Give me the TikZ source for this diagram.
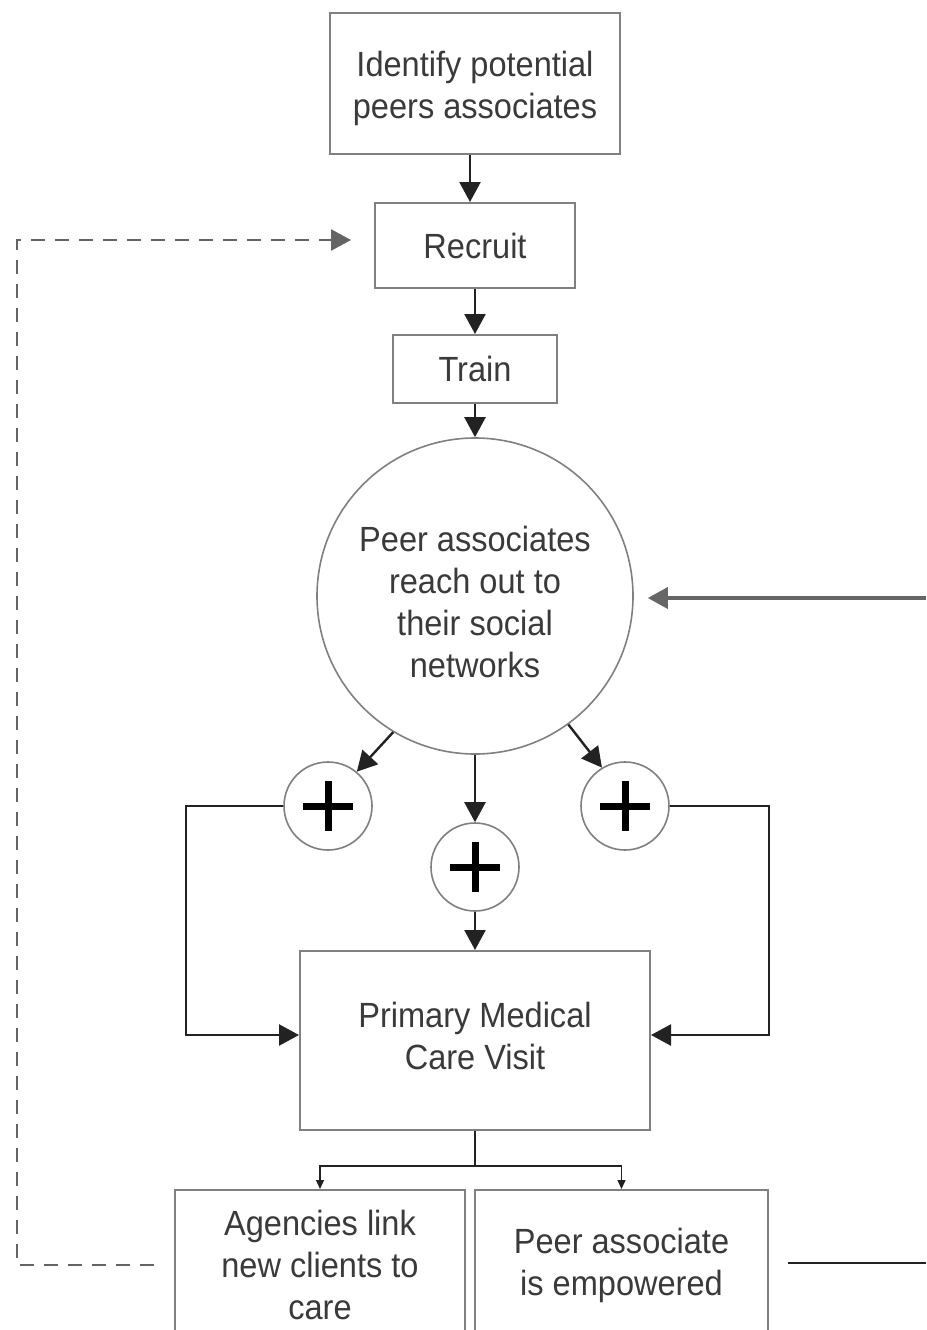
\documentclass[tikz,border=0pt]{standalone}
\usepackage{fontspec}
\setmainfont[FakeStretch=0.93]{Liberation Sans}
\usetikzlibrary{arrows.meta}
\definecolor{txt}{HTML}{3A3A3A}
\definecolor{frame}{HTML}{808080}
\definecolor{ln}{HTML}{222222}
\newcommand\mkplus[1]{\draw[line width=7pt,black] ([xshift=-25pt]#1.center) -- ([xshift=25pt]#1.center) ([yshift=-25pt]#1.center) -- ([yshift=25pt]#1.center);}
\begin{document}
\begin{tikzpicture}[x=1pt,y=-1pt,
  box/.style={draw=frame, line width=2pt, fill=white, text=txt, align=center, inner sep=0pt,
     font=\fontsize{35}{42}\selectfont},
  rnd/.style={circle, draw=frame, line width=1.6pt, fill=white, text=txt, align=center, inner sep=0pt,
     font=\fontsize{35}{42}\selectfont},
  tl/.style={text=txt, align=center, inner sep=0pt, font=\fontsize{35}{42}\selectfont},
  arr/.style={draw=ln, line width=2.4pt, -{Triangle[length=20pt,width=21pt]}},
  sarr/.style={draw=ln, line width=1.4pt, -{Triangle[length=9pt,width=8pt]}},
  dsh/.style={draw=ln!70!white, line width=2.6pt, dash pattern=on 14pt off 10pt, -{Triangle[length=20pt,width=21pt]}}]
\useasboundingbox (0,0) rectangle (926,1330);
\clip (0,0) rectangle (926,1330);
\fill[white] (0,0) rectangle (926,1330);

\node[box, minimum width=290pt, minimum height=141pt,
  label={[tl, yshift=-5pt]center:Identify potential\\peers associates}] (id) at (475,83.5) {};
\node[box, minimum width=200pt, minimum height=85pt] (rec) at (475,245.5) {Recruit};
\node[box, minimum width=164pt, minimum height=68pt] (train) at (475,369) {Train};
\node[rnd, minimum size=316pt,
  label={[tl, yshift=-6pt]center:Peer associates\\reach out to\\their social\\networks}] (peer) at (475,596) {};
\node[rnd, minimum size=88pt] (plusL) at (328,806) {};
\node[rnd, minimum size=88pt] (plusM) at (475,867) {};
\node[rnd, minimum size=88pt] (plusR) at (625,806) {};
\mkplus{plusL}
\mkplus{plusM}
\mkplus{plusR}
\node[box, minimum width=350pt, minimum height=179pt,
  label={[tl, yshift=5pt]center:Primary Medical\\Care Visit}] (pmcv) at (475,1040.5) {};
\node[box, minimum width=290pt, minimum height=150pt] (agen) at (320,1265) {Agencies link\\new clients to\\care};
\node[box, minimum width=293pt, minimum height=150pt] (emp) at (621.5,1265) {Peer associate\\is empowered};

\draw[arr] (id.south -| 470,0) -- (rec.north -| 470,0);
\draw[arr] (rec) -- (train);
\draw[arr] (train) -- (peer);
\coordinate (rin) at (926,598);
\draw[arr, draw=gray!80!black, line width=3.5pt] (rin) -- ([xshift=14pt]peer.east |- rin);
\draw[arr] (peer.-121) -- (plusL.50);
\draw[arr] (peer.-54) -- (plusR.121);
\draw[arr] (peer.south) -- (plusM.north);
\draw[arr] (plusM.south) -- (pmcv.north);
\draw[arr] (plusL.west) -- ++(-97,0) |- ([yshift=5.5pt]pmcv.west);
\draw[arr] (plusR.east) -- ++(99,0) |- ([yshift=5.5pt]pmcv.east);
\draw[draw=ln, line width=1.4pt] (pmcv.south) -- ++(0,35) coordinate (br);
\draw[sarr] (br) -| (agen.north);
\draw[sarr] (br) -| (emp.north);
\coordinate (dc) at (17,240);
\draw[dsh] ([xshift=-20pt]agen.west) -| (dc) -- ([xshift=-23pt]rec.west |- dc);
\coordinate (rout) at (926,1263);
\draw[draw=ln, line width=2.6pt] ([xshift=19pt]emp.east |- rout) -- (rout);
\end{tikzpicture}
\end{document}
